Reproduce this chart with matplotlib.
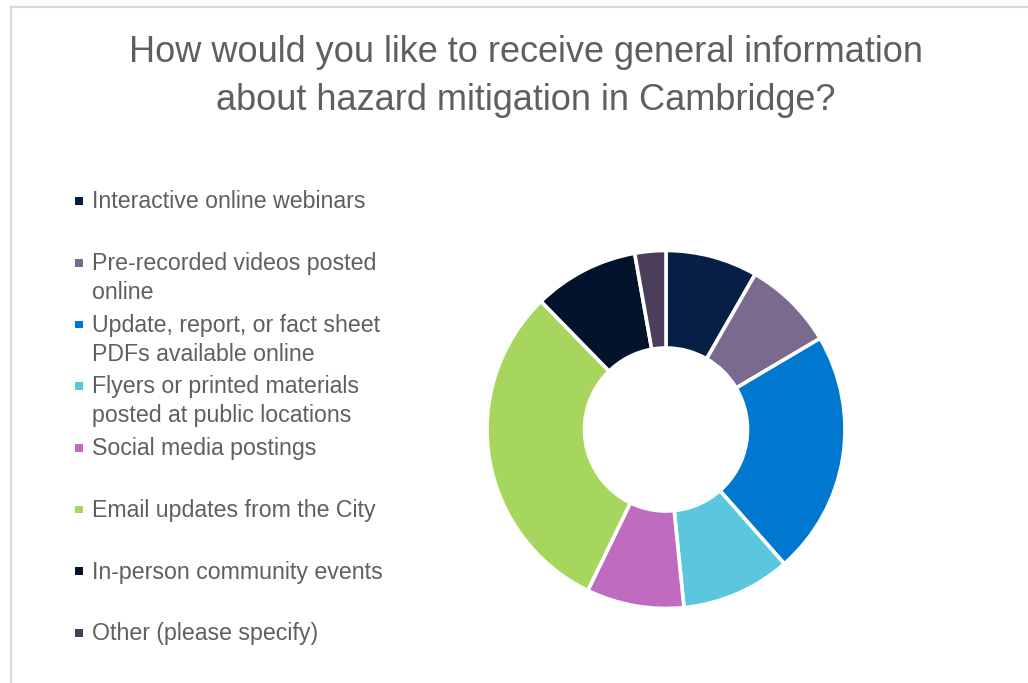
import matplotlib.pyplot as plt
from matplotlib.patches import Rectangle

# survey answers (share of responses, %)
labels = ["Interactive online webinars",
          "Pre-recorded videos posted\nonline",
          "Update, report, or fact sheet\nPDFs available online",
          "Flyers or printed materials\nposted at public locations",
          "Social media postings",
          "Email updates from the City",
          "In-person community events",
          "Other (please specify)"]
shares = [8.3, 8.2, 22.0, 9.9, 8.8, 30.5, 9.5, 2.8]
colors = ["#061f45", "#7b6a90", "#0078d0", "#5bc7de",
          "#bf6bc0", "#a7d65e", "#03132b", "#4b3e5b"]

W, H = 1028, 683
fig = plt.figure(figsize=(W / 100, H / 100), dpi=100)
fig.patch.set_facecolor("white")

txt_color = "#5f5f5f"
font = "Liberation Sans"

# frame lines (top and left)
fig.add_artist(plt.Line2D([10.5 / W, 1], [1 - 6.5 / H, 1 - 6.5 / H],
                          color="#d9d9d9", lw=1.6, transform=fig.transFigure))
fig.add_artist(plt.Line2D([10.5 / W, 10.5 / W], [0, 1 - 6.5 / H],
                          color="#d9d9d9", lw=1.6, transform=fig.transFigure))

# title
fig.text(526 / W, 1 - 62.5 / H, "How would you like to receive general information",
         ha="center", va="baseline", fontsize=26, color=txt_color, family=font)
fig.text(526 / W, 1 - 109.5 / H, "about hazard mitigation in Cambridge?",
         ha="center", va="baseline", fontsize=26, color=txt_color, family=font)

# donut
cx, cy, R = 666, 429.5, 179
ax = fig.add_axes([(cx - R) / W, (H - cy - R) / H, 2 * R / W, 2 * R / H])
wedges, _ = ax.pie(shares, colors=colors, startangle=90, counterclock=False, radius=1,
                   wedgeprops=dict(width=1 - 81.5 / 179, edgecolor="white", linewidth=2.6))
for w in wedges:
    w.set_clip_on(False)
ax.set_xlim(-1, 1)
ax.set_ylim(-1, 1)
ax.set_aspect("equal")
ax.axis("off")

# legend
first_base = 208.3
item_step = 61.7
line_step = 28.8
for i, (lab, col) in enumerate(zip(labels, colors)):
    base = first_base + i * item_step
    fig.add_artist(Rectangle(((79 - 3.8) / W, 1 - (base - 7.3 + 3.8) / H), 7.6 / W, 7.6 / H,
                             facecolor=col, edgecolor="none",
                             transform=fig.transFigure))
    for j, line in enumerate(lab.split("\n")):
        fig.text(92 / W, 1 - (base + j * line_step) / H, line,
                 ha="left", va="baseline", fontsize=16.7, color=txt_color, family=font)

fig.savefig("out.png", dpi=100, facecolor="white")
